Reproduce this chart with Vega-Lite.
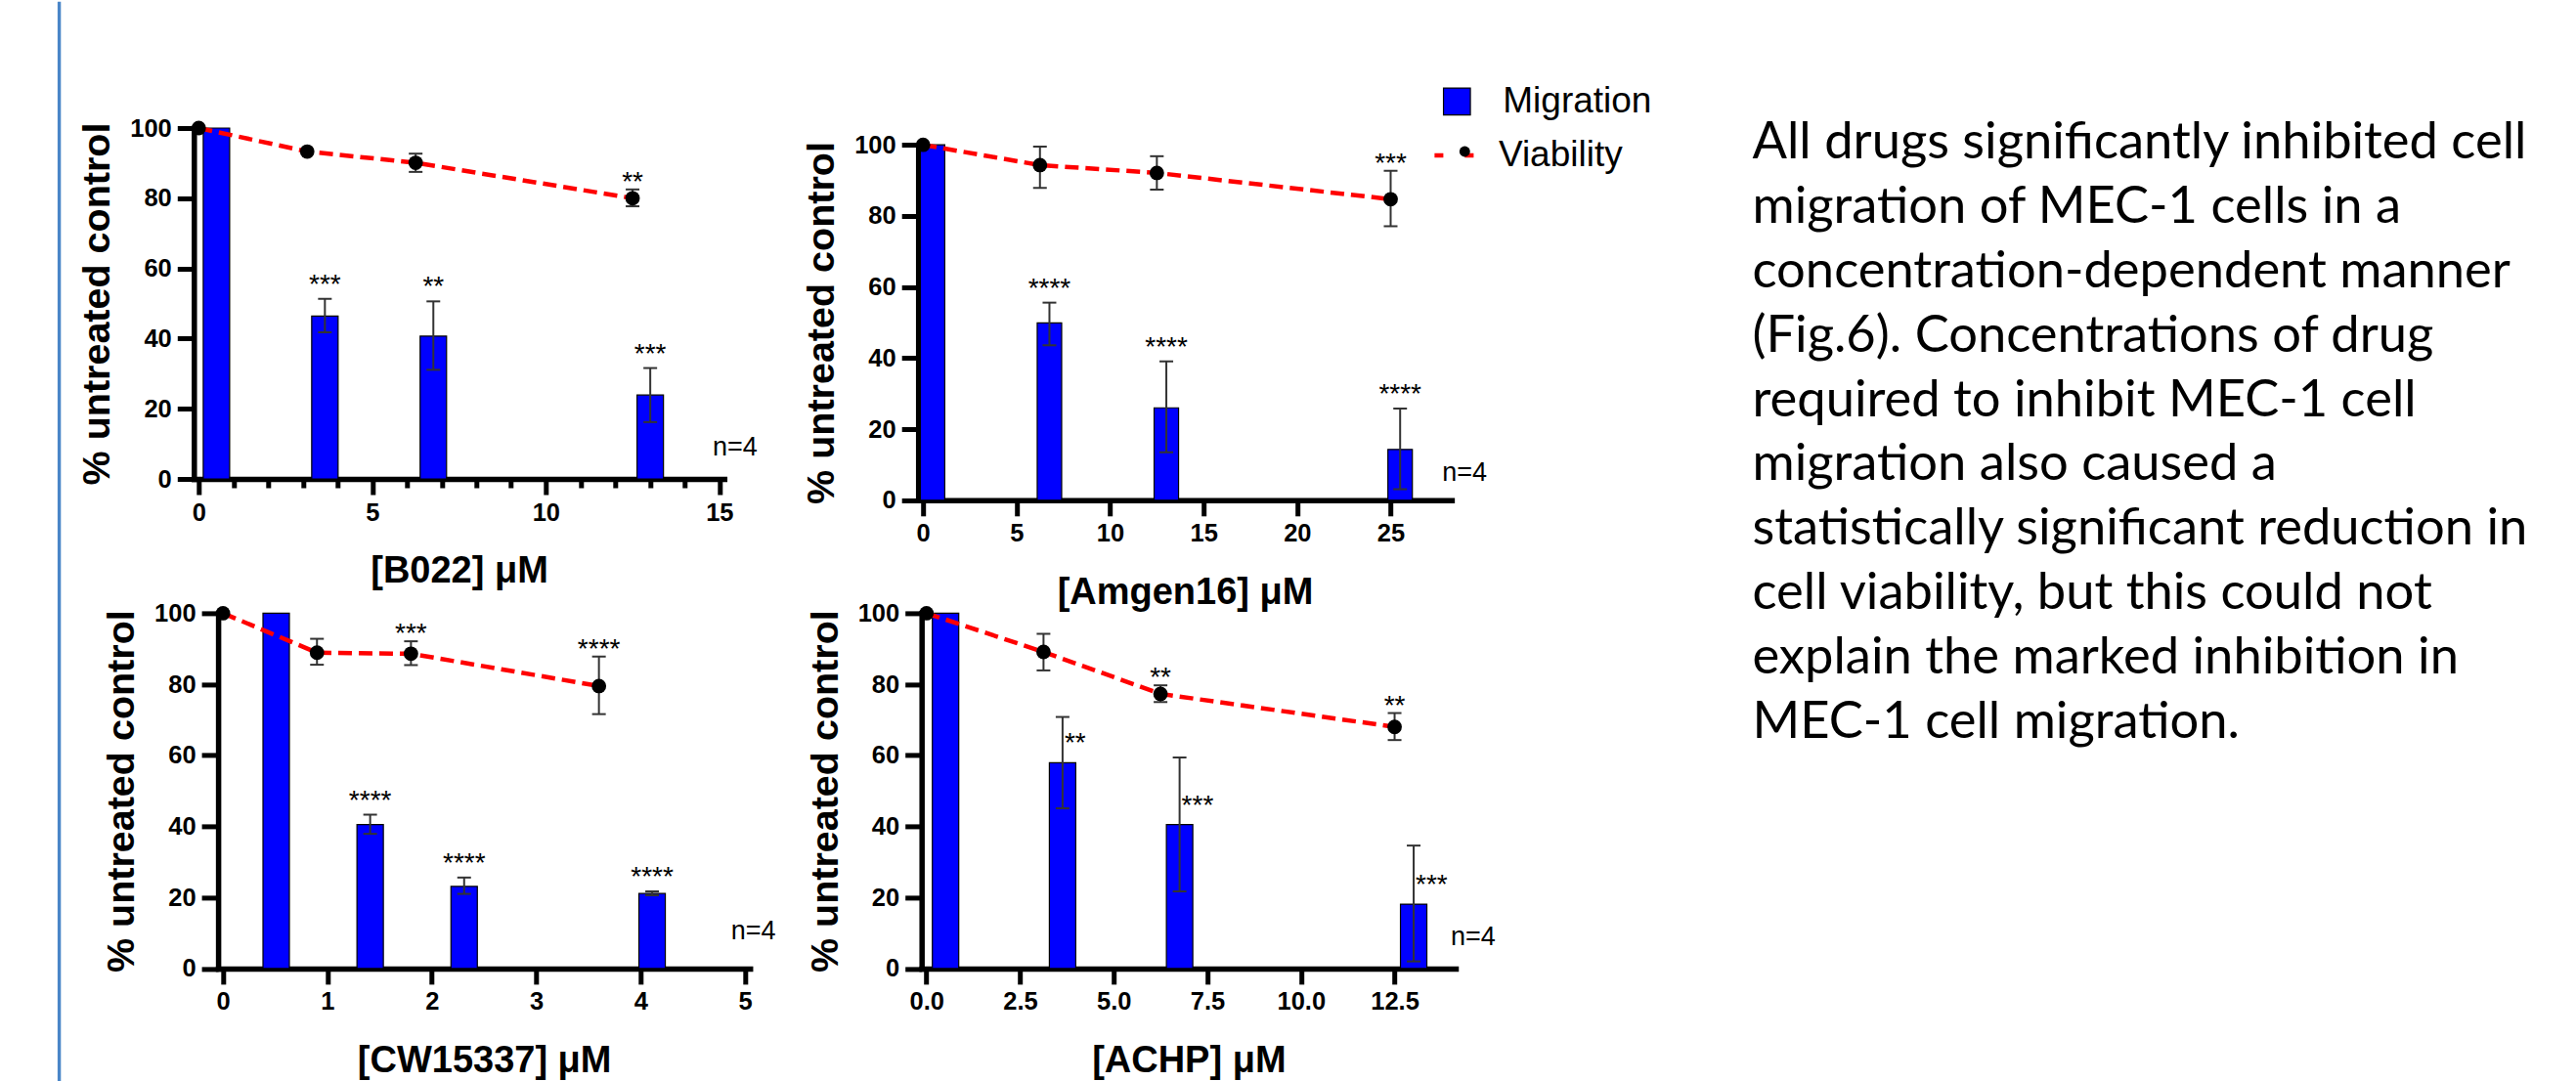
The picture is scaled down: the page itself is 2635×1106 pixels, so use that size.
{
  "$schema": "https://vega.github.io/schema/vega-lite/v6.json",
  "padding": {"left": 58.3, "top": 0, "right": 0, "bottom": 0},
  "autosize": {"type": "pad"},
  "background": "#ffffff",
  "datasets": {
    "fig6": [
      {"drug": "B022", "series": "Migration", "conc": 0, "mean": 100, "lo": null, "hi": null, "sig": ""},
      {"drug": "B022", "series": "Migration", "conc": 3.125, "mean": 46.4, "lo": 41.8, "hi": 51.3, "sig": "***"},
      {"drug": "B022", "series": "Migration", "conc": 6.25, "mean": 40.7, "lo": 31.1, "hi": 50.6, "sig": "**"},
      {"drug": "B022", "series": "Migration", "conc": 12.5, "mean": 23.9, "lo": 16.2, "hi": 31.6, "sig": "***"},
      {"drug": "B022", "series": "Viability", "conc": 0, "mean": 100, "lo": null, "hi": null, "sig": ""},
      {"drug": "B022", "series": "Viability", "conc": 3.125, "mean": 93.3, "lo": null, "hi": null, "sig": ""},
      {"drug": "B022", "series": "Viability", "conc": 6.25, "mean": 90.1, "lo": 87.5, "hi": 92.7, "sig": ""},
      {"drug": "B022", "series": "Viability", "conc": 12.5, "mean": 80.0, "lo": 77.7, "hi": 82.5, "sig": "**"},
      {"drug": "Amgen16", "series": "Migration", "conc": 0, "mean": 100, "lo": null, "hi": null, "sig": ""},
      {"drug": "Amgen16", "series": "Migration", "conc": 6.25, "mean": 49.9, "lo": 43.6, "hi": 55.6, "sig": "****"},
      {"drug": "Amgen16", "series": "Migration", "conc": 12.5, "mean": 26.0, "lo": 13.5, "hi": 39.1, "sig": "****"},
      {"drug": "Amgen16", "series": "Migration", "conc": 25, "mean": 14.3, "lo": 3.1, "hi": 25.8, "sig": "****"},
      {"drug": "Amgen16", "series": "Viability", "conc": 0, "mean": 100, "lo": null, "hi": null, "sig": ""},
      {"drug": "Amgen16", "series": "Viability", "conc": 6.25, "mean": 94.3, "lo": 87.9, "hi": 99.5, "sig": ""},
      {"drug": "Amgen16", "series": "Viability", "conc": 12.5, "mean": 92.1, "lo": 87.4, "hi": 96.8, "sig": ""},
      {"drug": "Amgen16", "series": "Viability", "conc": 25, "mean": 84.7, "lo": 77.1, "hi": 92.7, "sig": "***"},
      {"drug": "CW15337", "series": "Migration", "conc": 0, "mean": 100, "lo": null, "hi": null, "sig": ""},
      {"drug": "CW15337", "series": "Migration", "conc": 0.9, "mean": 40.5, "lo": 37.9, "hi": 43.3, "sig": "****"},
      {"drug": "CW15337", "series": "Migration", "conc": 1.8, "mean": 23.1, "lo": 21.0, "hi": 25.6, "sig": "****"},
      {"drug": "CW15337", "series": "Migration", "conc": 3.6, "mean": 21.1, "lo": 20.6, "hi": 21.7, "sig": "****"},
      {"drug": "CW15337", "series": "Viability", "conc": 0, "mean": 100, "lo": null, "hi": null, "sig": ""},
      {"drug": "CW15337", "series": "Viability", "conc": 0.9, "mean": 88.9, "lo": 85.5, "hi": 92.8, "sig": ""},
      {"drug": "CW15337", "series": "Viability", "conc": 1.8, "mean": 88.6, "lo": 85.4, "hi": 92.1, "sig": "***"},
      {"drug": "CW15337", "series": "Viability", "conc": 3.6, "mean": 79.5, "lo": 71.6, "hi": 87.8, "sig": "****"},
      {"drug": "ACHP", "series": "Migration", "conc": 0, "mean": 100, "lo": null, "hi": null, "sig": ""},
      {"drug": "ACHP", "series": "Migration", "conc": 3.125, "mean": 57.9, "lo": 45.1, "hi": 70.8, "sig": "**"},
      {"drug": "ACHP", "series": "Migration", "conc": 6.25, "mean": 40.5, "lo": 21.7, "hi": 59.4, "sig": "***"},
      {"drug": "ACHP", "series": "Migration", "conc": 12.5, "mean": 18.1, "lo": 2.0, "hi": 34.6, "sig": "***"},
      {"drug": "ACHP", "series": "Viability", "conc": 0, "mean": 100, "lo": null, "hi": null, "sig": ""},
      {"drug": "ACHP", "series": "Viability", "conc": 3.125, "mean": 89.1, "lo": 83.9, "hi": 94.2, "sig": ""},
      {"drug": "ACHP", "series": "Viability", "conc": 6.25, "mean": 77.3, "lo": 75.0, "hi": 79.7, "sig": "**"},
      {"drug": "ACHP", "series": "Viability", "conc": 12.5, "mean": 68.0, "lo": 64.3, "hi": 71.9, "sig": "**"}
    ]
  },
  "data": {"name": "fig6"},
  "columns": 3,
  "align": "each",
  "bounds": "flush",
  "spacing": {"row": 115.4, "column": 171.9},
  "concat": [
    {
      "width": 542.5, "height": 359,
      "resolve": {"axis": {"x": "independent"}},
      "layer": [
        {"data": {"values": [{"item": "slide border"}]}, "mark": {"type": "rule", "color": "#4a86c8", "strokeWidth": 3.4, "clip": false},
         "encoding": {"x": {"datum": -4.02, "axis": null}, "y": {"datum": 136}, "y2": {"datum": -172}}},
        {"transform": [{"filter": "datum.drug === 'B022' && datum.series === 'Migration'"}],
         "mark": {"type": "bar", "width": 27, "xOffset": 18.1, "fill": "#0000ff", "stroke": "#000000", "strokeWidth": 1.2},
         "encoding": {
           "x": {"field": "conc", "type": "quantitative", "scale": {"domain": [0, 15], "nice": false, "zero": false},
                 "axis": {"orient": "bottom", "values": [0, 5, 10, 15], "format": "d", "labelOverlap": false, "tickSize": 16, "title": "[B022] μM"}},
           "y": {"field": "mean", "type": "quantitative", "scale": {"domain": [0, 100], "nice": false}, "axis": {"values": [0,20,40,60,80,100], "title": "% untreated control"}}
         }},
        {"transform": [{"filter": "datum.drug === 'B022' && datum.series === 'Migration' && isValid(datum.lo)"}],
         "mark": {"type": "rule", "xOffset": 18.1, "color": "#333333", "strokeWidth": 2},
         "encoding": {"x": {"field": "conc", "type": "quantitative",
                            "axis": {"orient": "bottom", "values": [1,2,3,4,6,7,8,9,11,12,13,14], "labels": false, "domain": false, "tickSize": 9, "title": null}},
                      "y": {"field": "lo", "type": "quantitative"}, "y2": {"field": "hi"}}},
        {"transform": [{"filter": "datum.drug === 'B022' && datum.series === 'Migration' && isValid(datum.lo)"}, {"fold": ["lo", "hi"], "as": ["end", "val"]}],
         "mark": {"type": "tick", "orient": "horizontal", "size": 14, "thickness": 2, "xOffset": 18.1, "color": "#333333", "opacity": 1},
         "encoding": {"x": {"field": "conc", "type": "quantitative", "axis": null}, "y": {"field": "val", "type": "quantitative"}}},
        {"transform": [{"filter": "datum.drug === 'B022' && datum.series === 'Viability'"}],
         "mark": {"type": "line", "color": "#ff0000", "strokeWidth": 4.5, "strokeDash": [14, 7]},
         "encoding": {"x": {"field": "conc", "type": "quantitative", "axis": null}, "y": {"field": "mean", "type": "quantitative"}}},
        {"transform": [{"filter": "datum.drug === 'B022' && datum.series === 'Viability' && isValid(datum.lo)"}],
         "mark": {"type": "rule", "color": "#333333", "strokeWidth": 2},
         "encoding": {"x": {"field": "conc", "type": "quantitative", "axis": null}, "y": {"field": "lo", "type": "quantitative"}, "y2": {"field": "hi"}}},
        {"transform": [{"filter": "datum.drug === 'B022' && datum.series === 'Viability' && isValid(datum.lo)"}, {"fold": ["lo", "hi"], "as": ["end", "val"]}],
         "mark": {"type": "tick", "orient": "horizontal", "size": 14, "thickness": 2, "color": "#333333", "opacity": 1},
         "encoding": {"x": {"field": "conc", "type": "quantitative", "axis": null}, "y": {"field": "val", "type": "quantitative"}}},
        {"transform": [{"filter": "datum.drug === 'B022' && datum.series === 'Viability'"}],
         "mark": {"type": "point", "filled": true, "color": "#000000", "size": 220, "opacity": 1},
         "encoding": {"x": {"field": "conc", "type": "quantitative", "axis": null}, "y": {"field": "mean", "type": "quantitative"}}},
        {"transform": [{"filter": "datum.drug === 'B022' && datum.series === 'Migration' && datum.sig !== ''"}],
         "mark": {"type": "text", "xOffset": 18.1, "baseline": "bottom", "align": "center", "font": "Liberation Sans", "fontSize": 28, "color": "#000000"},
         "encoding": {"x": {"field": "conc", "type": "quantitative", "axis": null}, "y": {"field": "hi", "type": "quantitative"}, "text": {"field": "sig"}}},
        {"transform": [{"filter": "datum.drug === 'B022' && datum.series === 'Viability' && datum.sig !== ''"}],
         "mark": {"type": "text", "dy": 7, "baseline": "bottom", "align": "center", "font": "Liberation Sans", "fontSize": 28, "color": "#000000"},
         "encoding": {"x": {"field": "conc", "type": "quantitative", "axis": null}, "y": {"field": "hi", "type": "quantitative"}, "text": {"field": "sig"}}},
        {"data": {"values": [{"note": "n=4"}]}, "mark": {"type": "text", "font": "Liberation Sans", "fontSize": 27, "color": "#000000", "clip": false},
         "encoding": {"x": {"datum": 15.45, "axis": null}, "y": {"datum": 9.0}, "text": {"field": "note"}}}
      ]
    },
    {
      "width": 545.7, "height": 380.8,
      "layer": [
        {"transform": [{"filter": "datum.drug === 'Amgen16' && datum.series === 'Migration'"}],
         "mark": {"type": "bar", "width": 25, "xOffset": 9.7, "stroke": "#000000", "strokeWidth": 1.2},
         "encoding": {
           "x": {"field": "conc", "type": "quantitative", "scale": {"domain": [0, 28], "nice": false, "zero": false},
                 "axis": {"values": [0,5,10,15,20,25], "format": "d", "labelOverlap": false, "tickSize": 16, "title": "[Amgen16] μM"}},
           "y": {"field": "mean", "type": "quantitative", "scale": {"domain": [0, 100], "nice": false, "rangeMax": 17.2}, "axis": {"values": [0,20,40,60,80,100], "title": "% untreated control"}},
           "fill": {"datum": "Migration", "scale": {"range": ["#0000ff"]},
                    "legend": {"orient": "none", "legendX": 1273.5, "legendY": -45.7, "title": null, "padding": 0, "symbolType": "square", "symbolSize": 756,
                               "symbolStrokeColor": "#000000", "symbolStrokeWidth": 1.2, "labelFont": "Liberation Sans", "labelFontSize": 37, "labelColor": "#000000", "labelOffset": 28.5}}
         }},
        {"transform": [{"filter": "datum.drug === 'Amgen16' && datum.series === 'Migration' && isValid(datum.lo)"}],
         "mark": {"type": "rule", "xOffset": 9.7, "color": "#333333", "strokeWidth": 2},
         "encoding": {"x": {"field": "conc", "type": "quantitative"}, "y": {"field": "lo", "type": "quantitative"}, "y2": {"field": "hi"}}},
        {"transform": [{"filter": "datum.drug === 'Amgen16' && datum.series === 'Migration' && isValid(datum.lo)"}, {"fold": ["lo", "hi"], "as": ["end", "val"]}],
         "mark": {"type": "tick", "orient": "horizontal", "size": 14, "thickness": 2, "xOffset": 9.7, "color": "#333333", "opacity": 1},
         "encoding": {"x": {"field": "conc", "type": "quantitative"}, "y": {"field": "val", "type": "quantitative"}}},
        {"transform": [{"filter": "datum.drug === 'Amgen16' && datum.series === 'Viability'"}],
         "mark": {"type": "line", "strokeWidth": 4.5, "strokeDash": [14, 7]},
         "encoding": {"x": {"field": "conc", "type": "quantitative"}, "y": {"field": "mean", "type": "quantitative"},
                      "stroke": {"datum": "Viability", "scale": {"range": ["#ff0000"]},
                                 "legend": {"orient": "none", "legendX": 1266.6, "legendY": 5.5, "title": null, "padding": 0, "symbolType": "stroke", "symbolSize": 1600,
                                            "symbolStrokeWidth": 4.5, "symbolDash": [9, 22], "labelFont": "Liberation Sans", "labelFontSize": 37, "labelColor": "#000000", "labelOffset": 23}}}},
        {"transform": [{"filter": "datum.drug === 'Amgen16' && datum.series === 'Viability' && isValid(datum.lo)"}],
         "mark": {"type": "rule", "color": "#333333", "strokeWidth": 2},
         "encoding": {"x": {"field": "conc", "type": "quantitative"}, "y": {"field": "lo", "type": "quantitative"}, "y2": {"field": "hi"}}},
        {"transform": [{"filter": "datum.drug === 'Amgen16' && datum.series === 'Viability' && isValid(datum.lo)"}, {"fold": ["lo", "hi"], "as": ["end", "val"]}],
         "mark": {"type": "tick", "orient": "horizontal", "size": 14, "thickness": 2, "color": "#333333", "opacity": 1},
         "encoding": {"x": {"field": "conc", "type": "quantitative"}, "y": {"field": "val", "type": "quantitative"}}},
        {"transform": [{"filter": "datum.drug === 'Amgen16' && datum.series === 'Viability'"}],
         "mark": {"type": "point", "filled": true, "size": 220, "opacity": 1},
         "encoding": {"x": {"field": "conc", "type": "quantitative"}, "y": {"field": "mean", "type": "quantitative"},
                      "color": {"datum": "Viability marker", "scale": {"range": ["#000000"]},
                                "legend": {"orient": "none", "legendX": 1281.5, "legendY": 5.5, "title": null, "padding": 0, "symbolType": "circle", "symbolSize": 120,
                                           "symbolStrokeWidth": 0, "labelExpr": "''", "labelFont": "Liberation Sans", "labelFontSize": 37, "labelOpacity": 0}}}},
        {"transform": [{"filter": "datum.drug === 'Amgen16' && datum.series === 'Migration' && datum.sig !== ''"}],
         "mark": {"type": "text", "xOffset": 9.7, "baseline": "bottom", "align": "center", "font": "Liberation Sans", "fontSize": 28, "color": "#000000"},
         "encoding": {"x": {"field": "conc", "type": "quantitative"}, "y": {"field": "hi", "type": "quantitative"}, "text": {"field": "sig"}}},
        {"transform": [{"filter": "datum.drug === 'Amgen16' && datum.series === 'Viability' && datum.sig !== ''"}],
         "mark": {"type": "text", "dy": 7, "baseline": "bottom", "align": "center", "font": "Liberation Sans", "fontSize": 28, "color": "#000000"},
         "encoding": {"x": {"field": "conc", "type": "quantitative"}, "y": {"field": "hi", "type": "quantitative"}, "text": {"field": "sig"}}},
        {"data": {"values": [{"note": "n=4"}]}, "mark": {"type": "text", "font": "Liberation Sans", "fontSize": 27, "color": "#000000", "clip": false},
         "encoding": {"x": {"datum": 28.95}, "y": {"datum": 7.7}, "text": {"field": "note"}}}
      ]
    },
    {
      "width": 262.8, "height": 380.8,
      "data": {"values": [
        {"line": 1, "text": "All drugs significantly inhibited cell"},
        {"line": 2, "text": "migration of MEC-1 cells in a"},
        {"line": 3, "text": "concentration-dependent manner"},
        {"line": 4, "text": "(Fig.6). Concentrations of drug"},
        {"line": 5, "text": "required to inhibit MEC-1 cell"},
        {"line": 6, "text": "migration also caused a"},
        {"line": 7, "text": "statistically significant reduction in"},
        {"line": 8, "text": "cell viability, but this could not"},
        {"line": 9, "text": "explain the marked inhibition in"},
        {"line": 10, "text": "MEC-1 cell migration."}
      ]},
      "mark": {"type": "text", "align": "left", "baseline": "middle", "font": "Lato", "fontSize": 52.5, "color": "#000000"},
      "encoding": {
        "y": {"field": "line", "type": "quantitative", "scale": {"domain": [1, 10], "nice": false, "zero": false, "rangeMin": 15, "rangeMax": 608}, "axis": null},
        "text": {"field": "text"}
      }
    },
    {
      "width": 568.9, "height": 363.5,
      "layer": [
        {"transform": [{"filter": "datum.drug === 'CW15337' && datum.series === 'Migration'"}],
         "mark": {"type": "bar", "width": 27, "xOffset": 54.4, "fill": "#0000ff", "stroke": "#000000", "strokeWidth": 1.2},
         "encoding": {
           "x": {"field": "conc", "type": "quantitative", "scale": {"domain": [0, 5], "nice": false, "zero": false, "rangeMin": 24.8},
                 "axis": {"values": [0,1,2,3,4,5], "format": "d", "labelOverlap": false, "tickSize": 16, "title": "[CW15337] μM"}},
           "y": {"field": "mean", "type": "quantitative", "scale": {"domain": [0, 100], "nice": false}, "axis": {"values": [0,20,40,60,80,100], "offset": -24.8, "title": "% untreated control"}}
         }},
        {"transform": [{"filter": "datum.drug === 'CW15337' && datum.series === 'Migration' && isValid(datum.lo)"}],
         "mark": {"type": "rule", "xOffset": 54.4, "color": "#333333", "strokeWidth": 2},
         "encoding": {"x": {"field": "conc", "type": "quantitative"}, "y": {"field": "lo", "type": "quantitative"}, "y2": {"field": "hi"}}},
        {"transform": [{"filter": "datum.drug === 'CW15337' && datum.series === 'Migration' && isValid(datum.lo)"}, {"fold": ["lo", "hi"], "as": ["end", "val"]}],
         "mark": {"type": "tick", "orient": "horizontal", "size": 14, "thickness": 2, "xOffset": 54.4, "color": "#333333", "opacity": 1},
         "encoding": {"x": {"field": "conc", "type": "quantitative"}, "y": {"field": "val", "type": "quantitative"}}},
        {"transform": [{"filter": "datum.drug === 'CW15337' && datum.series === 'Viability'"}],
         "mark": {"type": "line", "color": "#ff0000", "strokeWidth": 4.5, "strokeDash": [14, 7]},
         "encoding": {"x": {"field": "conc", "type": "quantitative"}, "y": {"field": "mean", "type": "quantitative"}}},
        {"transform": [{"filter": "datum.drug === 'CW15337' && datum.series === 'Viability' && isValid(datum.lo)"}],
         "mark": {"type": "rule", "color": "#333333", "strokeWidth": 2},
         "encoding": {"x": {"field": "conc", "type": "quantitative"}, "y": {"field": "lo", "type": "quantitative"}, "y2": {"field": "hi"}}},
        {"transform": [{"filter": "datum.drug === 'CW15337' && datum.series === 'Viability' && isValid(datum.lo)"}, {"fold": ["lo", "hi"], "as": ["end", "val"]}],
         "mark": {"type": "tick", "orient": "horizontal", "size": 14, "thickness": 2, "color": "#333333", "opacity": 1},
         "encoding": {"x": {"field": "conc", "type": "quantitative"}, "y": {"field": "val", "type": "quantitative"}}},
        {"transform": [{"filter": "datum.drug === 'CW15337' && datum.series === 'Viability'"}],
         "mark": {"type": "point", "filled": true, "color": "#000000", "size": 220, "opacity": 1},
         "encoding": {"x": {"field": "conc", "type": "quantitative"}, "y": {"field": "mean", "type": "quantitative"}}},
        {"transform": [{"filter": "datum.drug === 'CW15337' && datum.series === 'Migration' && datum.sig !== ''"}],
         "mark": {"type": "text", "xOffset": 54.4, "baseline": "bottom", "align": "center", "font": "Liberation Sans", "fontSize": 28, "color": "#000000"},
         "encoding": {"x": {"field": "conc", "type": "quantitative"}, "y": {"field": "hi", "type": "quantitative"}, "text": {"field": "sig"}}},
        {"transform": [{"filter": "datum.drug === 'CW15337' && datum.series === 'Viability' && datum.sig !== ''"}],
         "mark": {"type": "text", "dy": 7, "baseline": "bottom", "align": "center", "font": "Liberation Sans", "fontSize": 28, "color": "#000000"},
         "encoding": {"x": {"field": "conc", "type": "quantitative"}, "y": {"field": "hi", "type": "quantitative"}, "text": {"field": "sig"}}},
        {"data": {"values": [{"note": "n=4"}]}, "mark": {"type": "text", "font": "Liberation Sans", "fontSize": 27, "color": "#000000", "clip": false},
         "encoding": {"x": {"datum": 5.08}, "y": {"datum": 10.5}, "text": {"field": "note"}}}
      ]
    },
    {
      "width": 549.8, "height": 363.5,
      "layer": [
        {"transform": [{"filter": "datum.drug === 'ACHP' && datum.series === 'Migration'"}],
         "mark": {"type": "bar", "width": 27, "xOffset": 19.5, "fill": "#0000ff", "stroke": "#000000", "strokeWidth": 1.2},
         "encoding": {
           "x": {"field": "conc", "type": "quantitative", "scale": {"domain": [0, 14], "nice": false, "zero": false, "rangeMin": 3.5},
                 "axis": {"values": [0, 2.5, 5, 7.5, 10, 12.5], "format": ".1f", "labelOverlap": false, "tickSize": 16, "title": "[ACHP] μM"}},
           "y": {"field": "mean", "type": "quantitative", "scale": {"domain": [0, 100], "nice": false}, "axis": {"values": [0,20,40,60,80,100], "offset": -3.5, "title": "% untreated control"}}
         }},
        {"transform": [{"filter": "datum.drug === 'ACHP' && datum.series === 'Migration' && isValid(datum.lo)"}],
         "mark": {"type": "rule", "xOffset": 19.5, "color": "#333333", "strokeWidth": 2},
         "encoding": {"x": {"field": "conc", "type": "quantitative"}, "y": {"field": "lo", "type": "quantitative"}, "y2": {"field": "hi"}}},
        {"transform": [{"filter": "datum.drug === 'ACHP' && datum.series === 'Migration' && isValid(datum.lo)"}, {"fold": ["lo", "hi"], "as": ["end", "val"]}],
         "mark": {"type": "tick", "orient": "horizontal", "size": 14, "thickness": 2, "xOffset": 19.5, "color": "#333333", "opacity": 1},
         "encoding": {"x": {"field": "conc", "type": "quantitative"}, "y": {"field": "val", "type": "quantitative"}}},
        {"transform": [{"filter": "datum.drug === 'ACHP' && datum.series === 'Viability'"}],
         "mark": {"type": "line", "color": "#ff0000", "strokeWidth": 4.5, "strokeDash": [14, 7]},
         "encoding": {"x": {"field": "conc", "type": "quantitative"}, "y": {"field": "mean", "type": "quantitative"}}},
        {"transform": [{"filter": "datum.drug === 'ACHP' && datum.series === 'Viability' && isValid(datum.lo)"}],
         "mark": {"type": "rule", "color": "#333333", "strokeWidth": 2},
         "encoding": {"x": {"field": "conc", "type": "quantitative"}, "y": {"field": "lo", "type": "quantitative"}, "y2": {"field": "hi"}}},
        {"transform": [{"filter": "datum.drug === 'ACHP' && datum.series === 'Viability' && isValid(datum.lo)"}, {"fold": ["lo", "hi"], "as": ["end", "val"]}],
         "mark": {"type": "tick", "orient": "horizontal", "size": 14, "thickness": 2, "color": "#333333", "opacity": 1},
         "encoding": {"x": {"field": "conc", "type": "quantitative"}, "y": {"field": "val", "type": "quantitative"}}},
        {"transform": [{"filter": "datum.drug === 'ACHP' && datum.series === 'Viability'"}],
         "mark": {"type": "point", "filled": true, "color": "#000000", "size": 220, "opacity": 1},
         "encoding": {"x": {"field": "conc", "type": "quantitative"}, "y": {"field": "mean", "type": "quantitative"}}},
        {"transform": [{"filter": "datum.drug === 'ACHP' && datum.series === 'Migration' && datum.sig !== ''"}],
         "mark": {"type": "text", "xOffset": 19.5, "dx": 2, "dy": -19, "baseline": "middle", "align": "left", "font": "Liberation Sans", "fontSize": 28, "color": "#000000"},
         "encoding": {"x": {"field": "conc", "type": "quantitative"}, "y": {"field": "mean", "type": "quantitative"}, "text": {"field": "sig"}}},
        {"transform": [{"filter": "datum.drug === 'ACHP' && datum.series === 'Viability' && datum.sig !== ''"}],
         "mark": {"type": "text", "dy": 7, "baseline": "bottom", "align": "center", "font": "Liberation Sans", "fontSize": 28, "color": "#000000"},
         "encoding": {"x": {"field": "conc", "type": "quantitative"}, "y": {"field": "hi", "type": "quantitative"}, "text": {"field": "sig"}}},
        {"data": {"values": [{"note": "n=4"}]}, "mark": {"type": "text", "font": "Liberation Sans", "fontSize": 27, "color": "#000000", "clip": false},
         "encoding": {"x": {"datum": 14.6}, "y": {"datum": 8.9}, "text": {"field": "note"}}}
      ]
    }
  ],
  "config": {
    "view": {"stroke": null},
    "font": "Liberation Sans",
    "axis": {
      "domainColor": "#000000", "domainWidth": 5.5, "domainCap": "square",
      "tickColor": "#000000", "tickWidth": 5,
      "labelFont": "Liberation Sans", "labelFontWeight": "bold", "labelFontSize": 25.5, "labelColor": "#000000",
      "labelFlush": false, "labelOverlap": false,
      "titleFont": "Liberation Sans", "titleFontWeight": "bold", "titleColor": "#000000",
      "grid": false
    },
    "axisX": {"labelPadding": 6, "titleFontSize": 38, "titlePadding": 28},
    "axisY": {"tickSize": 17, "labelPadding": 6, "titleFontSize": 39.5, "titlePadding": 13}
  }
}
